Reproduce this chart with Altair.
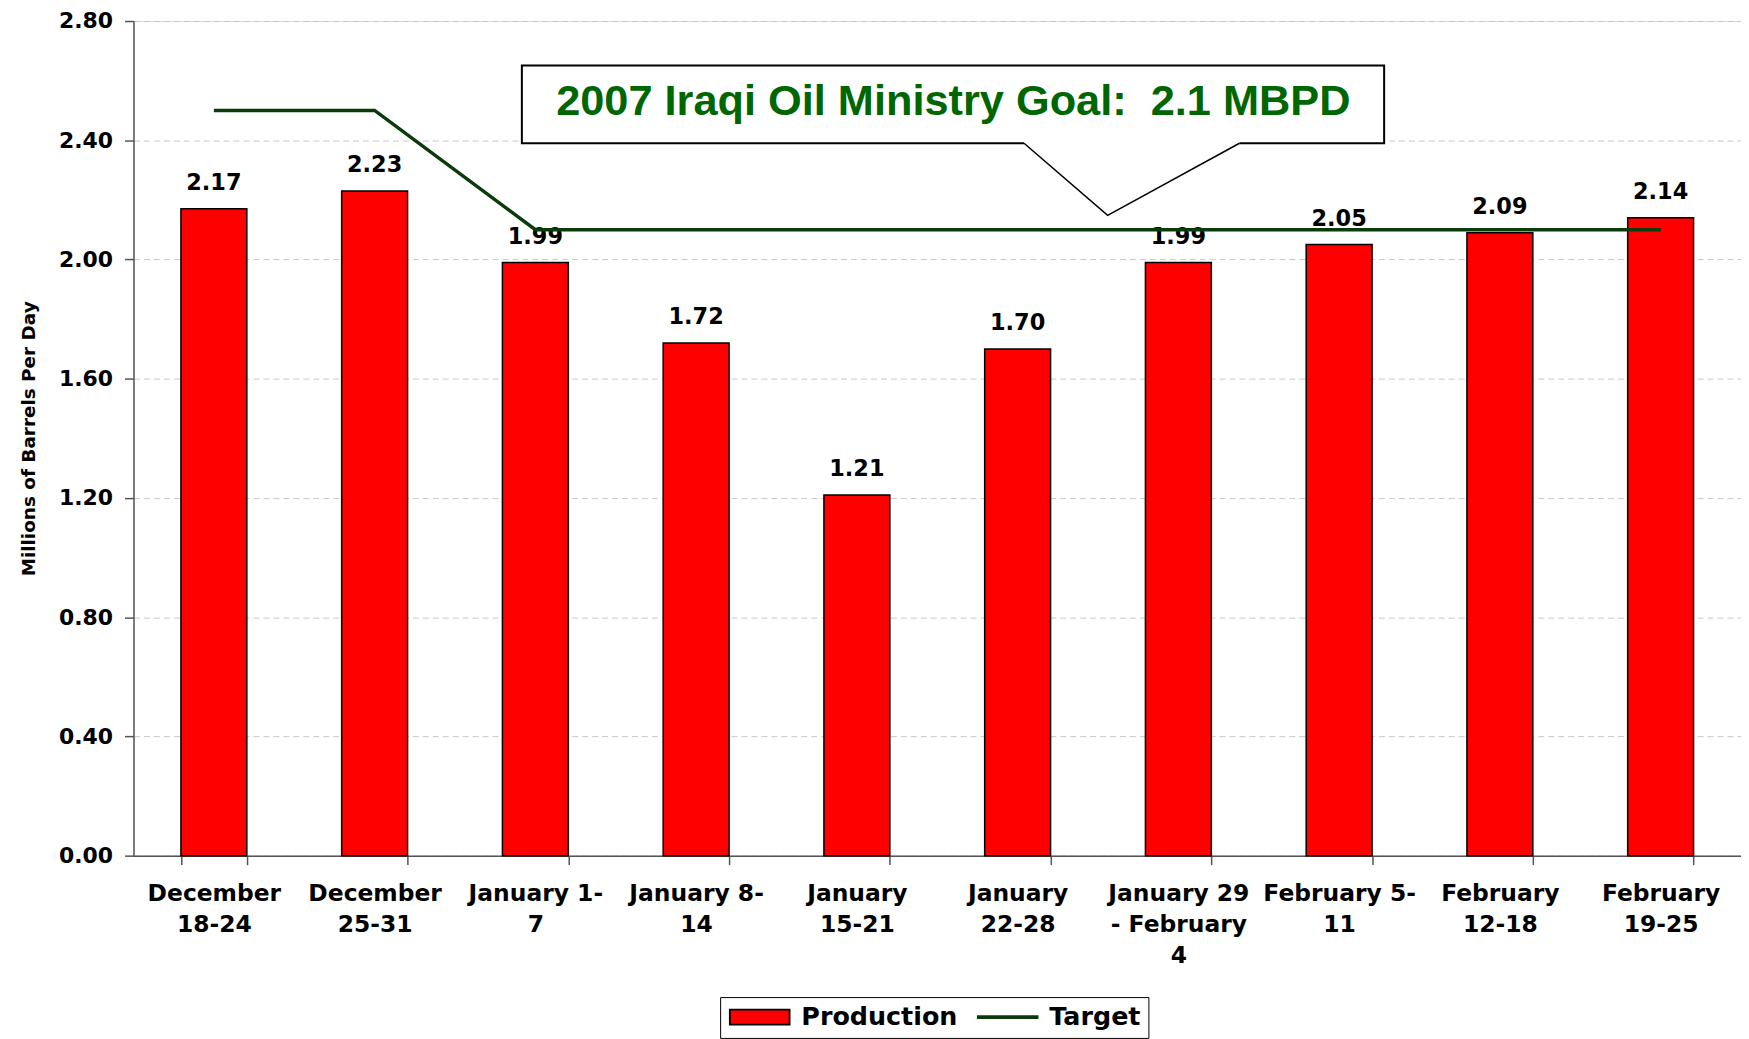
import altair as alt
import pandas as pd

# ---------------- data ----------------
weeks = [
    "December\n18-24", "December\n25-31", "January 1-\n7", "January 8-\n14",
    "January\n15-21", "January\n22-28", "January 29\n- February\n4",
    "February 5-\n11", "February\n12-18", "February\n19-25",
]
production = [2.17, 2.23, 1.99, 1.72, 1.21, 1.70, 1.99, 2.05, 2.09, 2.14]
target = [2.5, 2.5, 2.1, 2.1, 2.1, 2.1, 2.1, 2.1, 2.1, 2.1]
y_ticks = [0.0, 0.4, 0.8, 1.2, 1.6, 2.0, 2.4, 2.8]
series_names = ["Production", "Target"]

callout_text = "2007 Iraqi Oil Ministry Goal: \u00a02.1 MBPD"
# callout placement, in (category index 0-10, million barrels) units
box_x, box_x2, box_y, box_y2 = 2.416, 7.78, 2.39, 2.651
pointer_x = [5.54, 6.06, 6.88]
pointer_y = [2.39, 2.148, 2.39]
text_x, text_y = 5.10, 2.529

# ---------------- styles ----------------
RED = "#FF0000"
DKGREEN = "#0B3B0B"
TXTGREEN = "#006600"
FONT = "DejaVu Sans"

df = pd.DataFrame({"week": weeks, "production": production, "target": target})

x_axis = alt.Axis(
    title=None, labelAngle=0, labelExpr="split(datum.label, '\\n')",
    labelFont=FONT, labelFontSize=23.5, labelFontWeight="bold", labelColor="black",
    labelLineHeight=31, labelPadding=17, labelOverlap=False, labelLimit=300,
    tickBand="extent", tickSize=9, tickColor="#555555", domainColor="#555555",
    domainWidth=1.5, tickWidth=1.5, grid=False,
)
x_enc = alt.X(
    "week:N", sort=weeks,
    scale=alt.Scale(paddingInner=0.59, paddingOuter=0.295),
    axis=x_axis,
)
y_axis = alt.Axis(
    values=y_ticks, format=".2f", title="Millions of Barrels Per Day",
    titleFont=FONT, titleFontSize=18.5, titleFontWeight="bold", titleColor="black",
    titlePadding=20,
    labelFont=FONT, labelFontSize=22, labelFontWeight="bold", labelColor="black",
    labelPadding=12, tickSize=9, tickColor="#555555", domainColor="#555555",
    domainWidth=1.5, tickWidth=1.5,
    grid=True, gridDash=[6, 4], gridColor="#C8C8C8", gridWidth=1,
)
y_scale = alt.Scale(domain=[0, 2.8], nice=False, zero=True)

bars = alt.Chart(df).mark_bar(color=RED, stroke="black", strokeWidth=1.5).encode(
    x=x_enc, y=alt.Y("production:Q", scale=y_scale, axis=y_axis)
)
labels = alt.Chart(df).mark_text(
    font=FONT, fontSize=22.5, fontWeight="bold", color="black",
    baseline="alphabetic", dy=-19
).encode(
    x=x_enc, y=alt.Y("production:Q", scale=y_scale, axis=y_axis),
    text=alt.Text("production:Q", format=".2f"),
)
tline = alt.Chart(df).mark_line(color=DKGREEN, strokeWidth=3.5).encode(
    x=x_enc, y=alt.Y("target:Q", scale=y_scale, axis=y_axis)
)
main = alt.layer(bars, labels, tline)

# ---------------- callout ----------------
xq = alt.Scale(domain=[0, 10], nice=False, zero=False)
box_df = pd.DataFrame({"x": [box_x], "x2": [box_x2], "y": [box_y], "y2": [box_y2]})
box = alt.Chart(box_df).mark_rect(fill="white", stroke="black", strokeWidth=2).encode(
    x=alt.X("x:Q", scale=xq, axis=None), x2="x2:Q",
    y=alt.Y("y:Q", scale=y_scale, axis=y_axis), y2="y2:Q",
)
gap_df = pd.DataFrame({"x": [pointer_x[0]], "x2": [pointer_x[2]], "y": [pointer_y[0]]})
gap = alt.Chart(gap_df).mark_rule(color="white", strokeWidth=4).encode(
    x=alt.X("x:Q", scale=xq, axis=None), x2="x2:Q",
    y=alt.Y("y:Q", scale=y_scale, axis=y_axis),
)
ptr_df = pd.DataFrame({"x": pointer_x, "y": pointer_y, "o": [0, 1, 2]})
ptr = alt.Chart(ptr_df).mark_line(color="black", strokeWidth=1.5).encode(
    x=alt.X("x:Q", scale=xq, axis=None),
    y=alt.Y("y:Q", scale=y_scale, axis=y_axis),
    order="o:O",
)
txt_df = pd.DataFrame({"x": [text_x], "y": [text_y], "t": [callout_text]})
ctext = alt.Chart(txt_df).mark_text(
    font="Liberation Sans", fontSize=43.5, fontWeight="bold", color=TXTGREEN,
    baseline="middle", align="center"
).encode(
    x=alt.X("x:Q", scale=xq, axis=None),
    y=alt.Y("y:Q", scale=y_scale, axis=y_axis),
    text="t:N",
)
callout = alt.layer(box, gap, ptr, ctext)

# ---------------- legend (scale-driven, no marks drawn) ----------------
leg_df = pd.DataFrame({"series": series_names})
legend = alt.Legend(
    title=None, orient="none", legendX=589, legendY=980, direction="horizontal",
    strokeColor="black", padding=7, fillColor="white",
    labelFont=FONT, labelFontSize=25.5, labelFontWeight="bold", labelColor="black",
    symbolSize=400, symbolStrokeWidth=1.8, symbolOpacity=1, labelOffset=49,
    columnPadding=16, labelLimit=400,
)
leg = alt.Chart(leg_df).transform_filter("false").mark_point(
    filled=True, opacity=1, strokeWidth=1.8
).encode(
    fill=alt.Fill("series:N", scale=alt.Scale(domain=series_names, range=[RED, DKGREEN]), legend=legend),
    stroke=alt.Stroke("series:N", scale=alt.Scale(domain=series_names, range=["black", DKGREEN]), legend=legend),
    shape=alt.Shape("series:N", scale=alt.Scale(domain=series_names,
                    range=["M-1,-0.75H5V0.75H-1Z", "M-1,-0.1H5V0.1H-1Z"]), legend=legend),
)

chart = alt.layer(main, callout, leg).resolve_scale(x="independent").properties(
    width=1614, height=838,
    padding={"left": 126, "top": 11, "right": 0, "bottom": 182},
    autosize=alt.AutoSizeParams(type="none"),
).configure_view(stroke="#888888", strokeWidth=1.5).configure(background="white")

chart.save("out.html", embed_options={"renderer": "svg", "actions": False})
